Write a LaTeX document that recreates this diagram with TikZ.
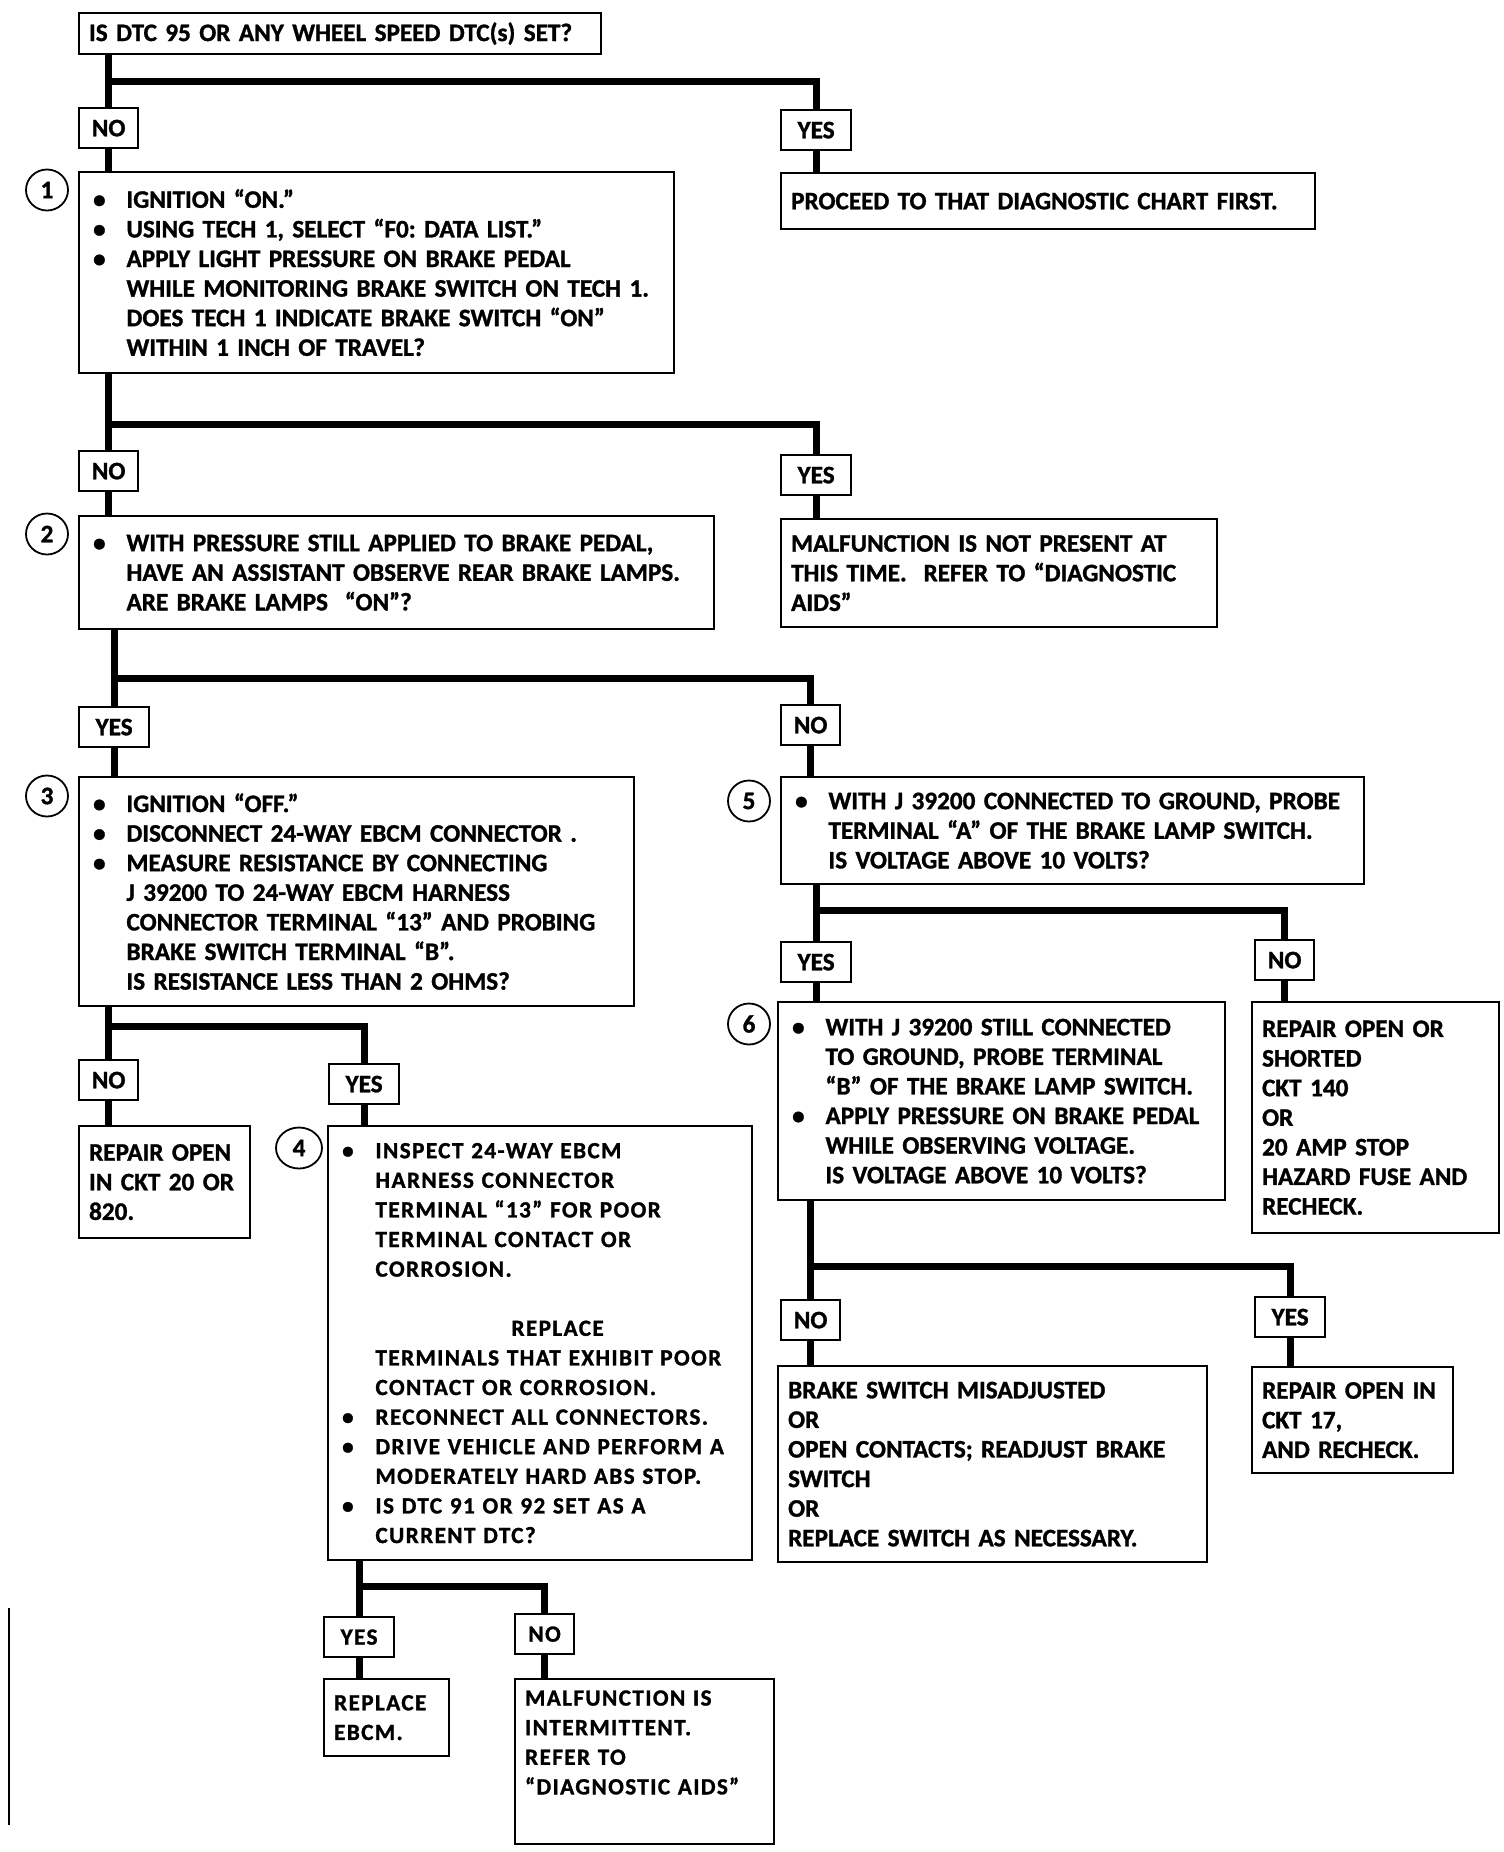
\documentclass[tikz,border=0pt]{standalone}
\usepackage{fontspec}
\setmainfont{Carlito}[BoldFeatures={FakeBold=1.2}]
\newfontfamily\widefont{Carlito}[Ligatures=TeX,LetterSpace=6,BoldFeatures={FakeBold=1.2}]
\usetikzlibrary{positioning,shapes.geometric}
\frenchspacing

\newcommand{\bul}{\makebox[18.7pt][l]{\hspace{2pt}\textbullet}}
\newcommand{\ind}{\hspace*{18.7pt}}

\begin{document}
\begin{tikzpicture}[x=0.5pt,y=-0.5pt,
		txt/.style={font=\fontsize{12.6}{14.8}\selectfont\bfseries},
		box/.style={txt,draw,line width=1.1pt,anchor=north west,align=left,inner xsep=5pt,inner ysep=0pt},
		lbl/.style={txt,draw,line width=1.1pt,anchor=north west,minimum height=20pt,inner sep=0pt},
		yesbox/.style={lbl,minimum width=35pt},
		nobox/.style={lbl,minimum width=29.5pt},
		num/.style={txt,draw,ellipse,line width=0.9pt,minimum width=21pt,minimum height=20.5pt,inner sep=0pt},
		flow/.style={line width=3.5pt}]
	\fill[white] (0,0) rectangle (1504,1852);
	\useasboundingbox (0,0) rectangle (1504,1852);

	% first question
	\node[box,text width=251pt,minimum height=20.5pt] (top) at (78,12) {IS DTC 95 OR ANY WHEEL SPEED DTC(s) SET?};
	\node[nobox] (no1) at (78,107) {NO};
	\node[yesbox] (yes1) at (780,109) {YES};
	\node[box,text width=287.5pt,minimum height=100.5pt] (b1) at (78,171) {\bul IGNITION ``ON.''\\
		\bul USING TECH 1, SELECT ``F0: DATA LIST.''\\
		\bul APPLY LIGHT PRESSURE ON BRAKE PEDAL\\
		\ind WHILE MONITORING BRAKE SWITCH ON TECH 1.\\
		\ind DOES TECH 1 INDICATE BRAKE SWITCH ``ON''\\
		\ind WITHIN 1 INCH OF TRAVEL?};
	\node[box,text width=257pt,minimum height=28pt] (pr) at (780,172) {PROCEED TO THAT DIAGNOSTIC CHART FIRST.};
	\node[num] (n1) at ([shift={(-31,19)}]b1.north west) {1};

	% step 2
	\node[nobox] (no2) at (78,450) {NO};
	\node[yesbox] (yes2) at (780,454) {YES};
	\node[box,text width=307.5pt,minimum height=56.5pt] (b2) at (78,515) {\bul WITH PRESSURE STILL APPLIED TO BRAKE PEDAL,\\
		\ind HAVE AN ASSISTANT OBSERVE REAR BRAKE LAMPS.\\
		\ind ARE BRAKE LAMPS\ \ ``ON''?};
	\node[box,text width=208pt,minimum height=54pt] (mal) at (780,518) {MALFUNCTION IS NOT PRESENT AT\\
		THIS TIME.\ \ REFER TO ``DIAGNOSTIC\\
		AIDS''};
	\node[num] (n2) at ([shift={(-31,19)}]b2.north west) {2};

	% step 3 and 5
	\node[yesbox] (yes3) at (78,706) {YES};
	\node[nobox] (no3) at (780,704) {NO};
	\node[box,text width=267.5pt,minimum height=114.5pt] (b3) at (78,776) {\bul IGNITION ``OFF.''\\
		\bul DISCONNECT 24-WAY EBCM CONNECTOR .\\
		\bul MEASURE RESISTANCE BY CONNECTING\\
		\ind J 39200 TO 24-WAY EBCM HARNESS\\
		\ind CONNECTOR TERMINAL ``13'' AND PROBING\\
		\ind BRAKE SWITCH TERMINAL ``B''.\\
		\ind IS RESISTANCE LESS THAN 2 OHMS?};
	\node[num] (n3) at ([shift={(-31,20)}]b3.north west) {3};
	\node[box,text width=281.5pt,minimum height=53.5pt] (b5) at (780,776) {\bul WITH J 39200 CONNECTED TO GROUND, PROBE\\
		\ind TERMINAL ``A'' OF THE BRAKE LAMP SWITCH.\\
		\ind IS VOLTAGE ABOVE 10 VOLTS?};
	\node[num] (n5) at ([shift={(-31,25)}]b5.north west) {5};

	% step 6
	\node[yesbox] (yes5) at (780,941) {YES};
	\node[nobox] (no5) at (1254,939) {NO};
	\node[box,text width=213.5pt,minimum height=99pt] (b6) at (777,1001) {\bul WITH J 39200 STILL CONNECTED\\
		\ind TO GROUND, PROBE TERMINAL\\
		\ind ``B'' OF THE BRAKE LAMP SWITCH.\\
		\bul APPLY PRESSURE ON BRAKE PEDAL\\
		\ind WHILE OBSERVING VOLTAGE.\\
		\ind IS VOLTAGE ABOVE 10 VOLTS?};
	\node[num] (n6) at ([shift={(-28,23)}]b6.north west) {6};
	\node[box,text width=113.5pt,minimum height=115.5pt] (rep140) at (1251,1001) {REPAIR OPEN OR\\
		SHORTED\\
		CKT 140\\
		OR\\
		20 AMP STOP\\
		HAZARD FUSE AND\\
		RECHECK.};
	\node[nobox] (no6) at (780,1299) {NO};
	\node[yesbox] (yes6) at (1254,1296) {YES};
	\node[box,text width=204.5pt,minimum height=98pt] (bsw) at (777,1365) {BRAKE SWITCH MISADJUSTED\\
		OR\\
		OPEN CONTACTS; READJUST BRAKE\\
		SWITCH\\
		OR\\
		REPLACE SWITCH AS NECESSARY.};
	\node[box,text width=90.5pt,minimum height=53pt] (ck17) at (1251,1366) {REPAIR OPEN IN\\
		CKT 17,\\
		AND RECHECK.};

	% step 4
	\node[nobox] (no3b) at (78,1059) {NO};
	\node[yesbox] (yes3b) at (328,1063) {YES};
	\node[box,text width=75.5pt,minimum height=56pt] (ck20) at (78,1125) {REPAIR OPEN\\
		IN CKT 20 OR\\
		820.};
	\node[box,text width=202pt,minimum height=217pt,font=\fontsize{11.6}{14.8}\selectfont\bfseries\widefont] (b4) at (327,1125) {\bul INSPECT 24-WAY EBCM\\
		\ind HARNESS CONNECTOR\\
		\ind TERMINAL ``13'' FOR POOR\\
		\ind TERMINAL CONTACT OR\\
		\ind CORROSION.\\[14.8pt]
		\ind\hspace*{68pt}REPLACE\\
		\ind TERMINALS THAT EXHIBIT POOR\\
		\ind CONTACT OR CORROSION.\\
		\bul RECONNECT ALL CONNECTORS.\\
		\bul DRIVE VEHICLE AND PERFORM A\\
		\ind MODERATELY HARD ABS STOP.\\
		\bul IS DTC 91 OR 92 SET AS A\\
		\ind CURRENT DTC?};
	\node[num,minimum width=23pt] (n4) at ([shift={(-28,23)}]b4.north west) {4};
	\node[yesbox,font=\fontsize{11.6}{14.8}\selectfont\bfseries\widefont] (yes4) at (323,1616) {YES};
	\node[nobox,font=\fontsize{11.6}{14.8}\selectfont\bfseries\widefont] (no4) at (514,1613) {NO};
	\node[box,text width=52.5pt,minimum height=38.5pt,font=\fontsize{11.6}{14.8}\selectfont\bfseries\widefont] (ebcm) at (323,1678) {REPLACE\\
		EBCM.};
	\node[box,text width=119.5pt,minimum height=82.5pt,font=\fontsize{11.6}{14.8}\selectfont\bfseries\widefont] (int) at (514,1678) {MALFUNCTION IS\\
		INTERMITTENT.\\
		REFER TO\\
		``DIAGNOSTIC AIDS''\\
		\strut};

	% branch heights
	\coordinate (r1) at (0,81);
	\coordinate (r2) at (0,424);
	\coordinate (r3) at (0,678);
	\coordinate (r5) at (0,910);
	\coordinate (r6) at (0,1266);
	\coordinate (r3b) at (0,1026);
	\coordinate (r4) at (0,1586);

	% connectors
	\draw[flow] (no1.north |- top.south) -- (no1.north);
	\draw[flow] (no1 |- r1) -| (yes1.north);
	\draw[flow] (no1.south) -- (no1.south |- b1.north);
	\draw[flow] (yes1.south) -- (yes1.south |- pr.north);

	\draw[flow] (no2.north |- b1.south) -- (no2.north);
	\draw[flow] (no2 |- r2) -| (yes2.north);
	\draw[flow] (no2.south) -- (no2.south |- b2.north);
	\draw[flow] (yes2.south) -- (yes2.south |- mal.north);

	\draw[flow] (yes3.north |- b2.south) -- (yes3.north);
	\draw[flow] (yes3 |- r3) -| (no3.north);
	\draw[flow] (yes3.south) -- (yes3.south |- b3.north);
	\draw[flow] (no3.south) -- (no3.south |- b5.north);

	\draw[flow] (yes5.north |- b5.south) -- (yes5.north);
	\draw[flow] (yes5 |- r5) -| (no5.north);
	\draw[flow] (yes5.south) -- (yes5.south |- b6.north);
	\draw[flow] (no5.south) -- (no5.south |- rep140.north);

	\draw[flow] (no6.north |- b6.south) -- (no6.north);
	\draw[flow] (no6 |- r6) -| (yes6.north);
	\draw[flow] (no6.south) -- (no6.south |- bsw.north);
	\draw[flow] (yes6.south) -- (yes6.south |- ck17.north);

	\draw[flow] (no3b.north |- b3.south) -- (no3b.north);
	\draw[flow] (no3b |- r3b) -| (yes3b.north);
	\draw[flow] (no3b.south) -- (no3b.south |- ck20.north);
	\draw[flow] (yes3b.south) -- (yes3b.south |- b4.north);

	\draw[flow] (yes4.north |- b4.south) -- (yes4.north);
	\draw[flow] (yes4 |- r4) -| (no4.north);
	\draw[flow] (yes4.south) -- (yes4.south |- ebcm.north);
	\draw[flow] (no4.south) -- (no4.south |- int.north);

	\draw[line width=0.6pt] (9,1608) -- (9,1825);
\end{tikzpicture}
\end{document}
